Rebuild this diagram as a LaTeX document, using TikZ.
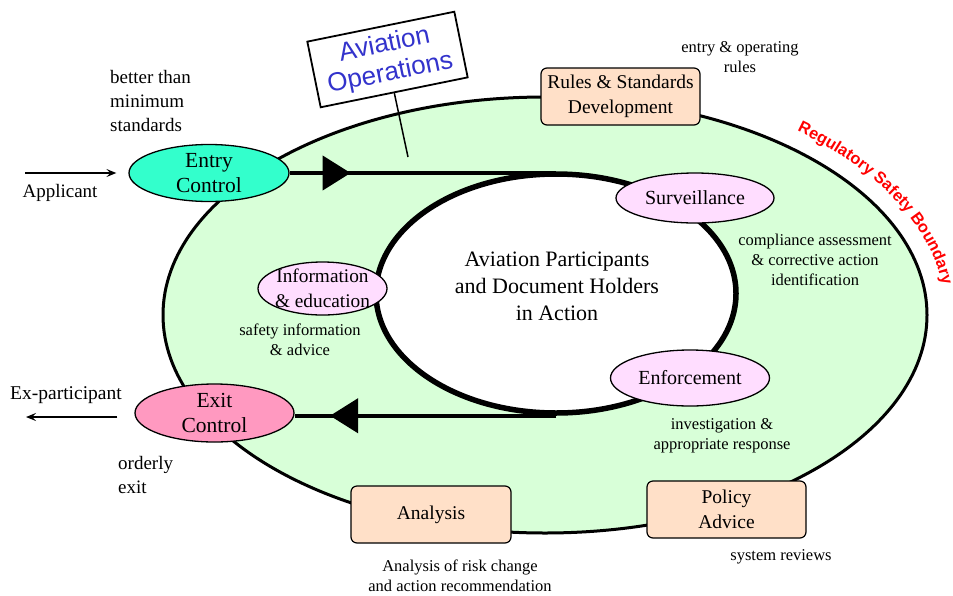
\documentclass[tikz,border=0pt]{standalone}
\usepackage{fontspec}
\setmainfont{Liberation Serif}
\newfontfamily\arialf{Liberation Sans}
\usetikzlibrary{shapes.geometric,arrows.meta,decorations.markings,decorations.text}
\definecolor{bgreen}{RGB}{216,255,216}
\definecolor{entryc}{RGB}{51,255,204}
\definecolor{exitc}{RGB}{255,153,192}
\definecolor{lilac}{RGB}{255,221,255}
\definecolor{peach}{RGB}{255,224,200}
\definecolor{signblue}{RGB}{51,51,204}
\newcommand\regfmt{\arialf\bfseries\fontsize{16.3}{18}\selectfont}
\begin{document}
\begin{tikzpicture}[x=1pt,y=1pt,
  oval/.style={ellipse, draw=black, line width=1.3pt, inner sep=0pt},
  ovaltext/.style={align=center, inner sep=0pt, font=\fontsize{20}{25}\selectfont},
  boxnode/.style={rectangle, rounded corners=6pt, draw=black, line width=1.2pt, fill=peach, minimum width=159pt, minimum height=57pt, inner sep=0pt, align=center, font=\fontsize{19.5}{25}\selectfont},
  note/.style={align=center, inner sep=0pt, font=\fontsize{16.5}{20}\selectfont},
  side/.style={align=left, inner sep=0pt, font=\fontsize{19}{24}\selectfont},
  flow/.style={line width=4pt},
  thinarrow/.style={line width=1.2pt, -{Stealth[length=10pt,width=8pt,inset=4pt]}}
]
\useasboundingbox (0,0) rectangle (953,-595);

% regions
\node[ellipse, draw, line width=3pt, fill=bgreen, minimum width=764pt, minimum height=436pt, inner sep=0pt] (boundary) at (545,-315) {};
\node[ellipse, draw, line width=5.5pt, fill=white, minimum width=360pt, minimum height=239pt, inner sep=0pt] (core) at (556,-293.5) {};
\node[align=center, inner sep=0pt, font=\fontsize{22}{27}\selectfont] (coretext) at (557,-286) {Aviation Participants\\and Document Holders\\in Action};

% boundary label
\path[decorate, decoration={text along path, text={|\regfmt|Regulatory Safety Boundary}, text color=red}]
  (797,-131) arc[start angle=51, end angle=-15, x radius=401pt, y radius=237pt];

% sign
\node[draw, line width=1.8pt, fill=white, rotate=11.5, minimum width=150pt, minimum height=67pt, inner sep=0pt, align=center, text=signblue, font=\arialf\fontsize{26}{29}\selectfont] (sign) at (387.5,-59.5) {Aviation\\Operations};
\coordinate (stickend) at (408,-157);
\draw[line width=1.5pt] (sign.south) -- (stickend);

% process ovals
\node[oval, fill=entryc, minimum width=160pt, minimum height=57pt,
  label={[ovaltext, font=\fontsize{21.5}{25}\selectfont]center:Entry\\Control}] (entry) at (209,-173) {};
\node[oval, fill=exitc, minimum width=159pt, minimum height=58pt,
  label={[ovaltext, font=\fontsize{21.5}{25}\selectfont]center:Exit\\Control}] (exit) at (214.5,-413) {};
\node[oval, fill=lilac, minimum width=158pt, minimum height=50pt,
  label={[ovaltext]center:Surveillance}] (surv) at (695,-198) {};
\node[oval, fill=lilac, minimum width=159pt, minimum height=56pt,
  label={[ovaltext]center:Enforcement}] (enf) at (690,-378) {};
\node[oval, fill=lilac, minimum width=129pt, minimum height=53pt,
  label={[ovaltext, font=\fontsize{19.3}{25}\selectfont]center:Information\\\& education}] (info) at (322.5,-288.5) {};

% boxes
\node[boxnode] (rules) at (620.5,-96.5) {Rules \& Standards\\Development};
\node[boxnode, minimum width=160pt] (analysis) at (431,-514.5) {Analysis};
\node[boxnode] (policy) at (726.5,-509.5) {Policy\\Advice};

% flows
\draw[flow, postaction={decorate}, decoration={markings, mark=at position 61pt with {\arrow{Triangle[length=28pt,width=34pt]}}}]
  (entry.east) -- (entry.east -| core.north);
\draw[flow, postaction={decorate}, decoration={markings, mark=at position 226pt with {\arrow{Triangle[length=28pt,width=34pt]}}}]
  (core.south) -- (core.south -| exit.east);

% outside arrows
\coordinate (appstart) at (25,-173);
\draw[thinarrow, shorten >=12pt] (appstart) -- (appstart -| entry.west);
\coordinate (exend) at (26,-417);
\draw[thinarrow, shorten <=17pt] (exend -| exit.west) -- (exend);

% text labels
\node[side, anchor=west] (better) at (110,-101) {better than\\minimum\\standards};
\node[side] (applicant) at (60,-193) {Applicant};
\node[side, font=\fontsize{19.5}{24}\selectfont] (exp) at (66,-395) {Ex-participant};
\node[side, anchor=west] (orderly) at (118,-475) {orderly\\exit};
\node[note] (entryrules) at (740,-57) {entry \& operating\\rules};
\node[note] (compl) at (815,-260) {compliance assessment\\\& corrective action\\identification};
\node[note] (safety) at (300,-339.5) {safety information\\\& advice};
\node[note] (invest) at (722,-436) {investigation \&\\appropriate response};
\node[note] (risk) at (460,-576) {Analysis of risk change\\and action recommendation};
\node[note] (sysrev) at (781,-557) {system reviews};
\end{tikzpicture}
\end{document}
